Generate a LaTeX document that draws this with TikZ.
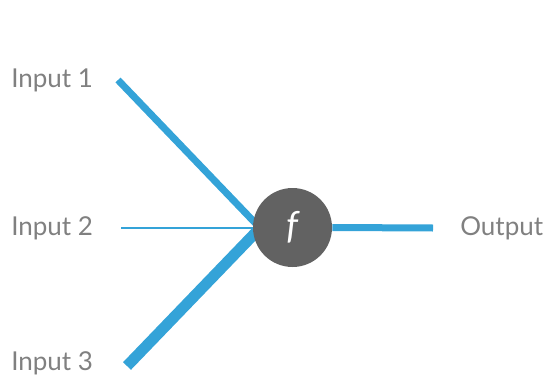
\documentclass[tikz,border=0pt]{standalone}
\usepackage{fontspec}
\setmainfont{Lato}
\begin{document}
\begin{tikzpicture}[x=0.75pt,y=-0.75pt,
  lbl/.style={text=labelgray,font=\fontsize{19.5}{22}\selectfont,inner sep=0pt},
  wire/.style={draw=wireblue,line cap=butt},
  neuron/.style={circle,fill=nodegray,minimum size=79*0.75pt,inner sep=0pt,text=white,
                 font=\fontsize{28}{32}\selectfont\itshape}]
\definecolor{labelgray}{RGB}{128,128,128}
\definecolor{wireblue}{RGB}{52,163,216}
\definecolor{nodegray}{RGB}{98,98,98}
\useasboundingbox (0,0) rectangle (555,381);

% labels
\node[lbl,anchor=west] (in1) at (11,80) {Input 1};
\node[lbl,anchor=west] (in2) at (11,228) {Input 2};
\node[lbl,anchor=west] (in3) at (11,363) {Input 3};
\node[lbl,anchor=west] (out) at (460,228) {Output};

% wire end points
\coordinate (s1) at (118,80);
\coordinate (s2) at (121,228);
\coordinate (s3) at (127,366);
\coordinate (hub) at (260,228);
\coordinate (e) at (433,228);

% input wires, weighted by thickness
\draw[wire,line width=7*0.75pt] (s1) -- (hub);
\draw[wire,line width=2*0.75pt] (s2) -- (hub);
\draw[wire,line width=11*0.75pt] (s3) -- (hub);

% activation node and output
\node[neuron] (f) at (292.5,227.5) {f};
\draw[wire,line width=7*0.75pt] (f.east) -- (e);
\end{tikzpicture}
\end{document}
